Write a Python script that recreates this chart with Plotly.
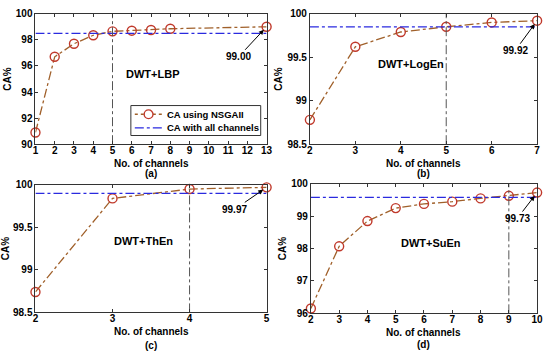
import plotly.graph_objects as go

# Data
a_x = [1, 2, 3, 4, 5, 6, 7, 8, 13]
a_y = [90.9, 96.7, 97.7, 98.35, 98.65, 98.7, 98.75, 98.85, 99.0]
a_all = 98.5
a_sel = 5

b_x = [2, 3, 4, 5, 6, 7]
b_y = [98.78, 99.62, 99.79, 99.85, 99.90, 99.92]
b_all = 99.85
b_sel = 5

c_x = [2, 3, 4, 5]
c_y = [98.74, 99.84, 99.95, 99.97]
c_all = 99.9
c_sel = 4

d_x = [2, 3, 4, 5, 6, 7, 8, 9, 10]
d_y = [96.15, 98.07, 98.85, 99.25, 99.38, 99.45, 99.55, 99.63, 99.73]
d_all = 99.58
d_sel = 9

legend_labels = ["CA using NSGAII", "CA with all channels"]

W, H = 550, 358
def px(x):
    return x / W
def py(y):
    return 1 - y / H

panels = [
    dict(x=a_x, y=a_y, all=a_all, sel=a_sel, xr=[1, 13], yr=[90, 100], yt=[90, 92, 94, 96, 98, 100],
         ytl=["90", "92", "94", "96", "98", "100"], label="(a)", name="DWT+LBP", best="99.00",
         top=8, bot=143, left=33, right=268, txt=(7.1, 95.4), arr_ax=-28, arr_ay=30,
         xt_y=(162, 172)),
    dict(x=b_x, y=b_y, all=b_all, sel=b_sel, xr=[2, 7], yr=[98.5, 100], yt=[98.5, 99, 99.5, 100],
         ytl=["98.5", "99", "99.5", "100"], label="(b)", name="DWT+LogEn", best="99.92",
         top=8, bot=143, left=312, right=543, txt=(4.22, 99.42), arr_ax=-22, arr_ay=30,
         xt_y=(162, 172)),
    dict(x=c_x, y=c_y, all=c_all, sel=c_sel, xr=[2, 5], yr=[98.5, 100], yt=[98.5, 99, 99.5, 100],
         ytl=["98.5", "99", "99.5", "100"], label="(c)", name="DWT+ThEn", best="99.97",
         top=185, bot=317, left=33, right=268, txt=(3.4, 99.34), arr_ax=-32, arr_ay=22,
         xt_y=(336, 350)),
    dict(x=d_x, y=d_y, all=d_all, sel=d_sel, xr=[2, 10], yr=[96, 100], yt=[96, 97, 98, 99, 100],
         ytl=["96", "97", "98", "99", "100"], label="(d)", name="DWT+SuEn", best="99.73",
         top=184, bot=318, left=313, right=543, txt=(6.25, 98.18), arr_ax=-20, arr_ay=26,
         xt_y=(337, 349)),
]

line_col = "#a0602a"
mark_col = "#c0392b"
all_col = "#2a2adf"
font = "Liberation Sans, Arial, sans-serif"

fig = go.Figure()
for i, p in enumerate(panels):
    n = "" if i == 0 else str(i + 1)
    xa, ya = "x" + n, "y" + n
    fig.add_trace(go.Scatter(
        x=p["x"], y=p["y"], mode="lines+markers", xaxis=xa, yaxis=ya,
        name=legend_labels[0], showlegend=False, cliponaxis=False,
        line=dict(color=line_col, width=1.3, dash="dashdot"),
        marker=dict(symbol="circle-open", size=9, color=mark_col, line=dict(width=1.4, color=mark_col)),
    ))
    fig.add_trace(go.Scatter(
        x=p["xr"], y=[p["all"], p["all"]], mode="lines", xaxis=xa, yaxis=ya,
        name=legend_labels[1], showlegend=False,
        line=dict(color=all_col, width=1.3, dash="dashdot"),
    ))
    fig.add_trace(go.Scatter(
        x=[p["sel"], p["sel"]], y=p["yr"], mode="lines", xaxis=xa, yaxis=ya, showlegend=False,
        line=dict(color="#555555", width=1, dash="dashdot"), hoverinfo="skip",
    ))
    xkey = "xaxis" + n
    ykey = "yaxis" + n
    fig.layout[xkey] = dict(
        domain=[px(p["left"]), px(p["right"])], anchor=ya, range=p["xr"], tickmode="array",
        tickvals=list(range(p["xr"][0], p["xr"][1] + 1)),
        showgrid=False, zeroline=False, showline=True, mirror="ticks", linecolor="#333",
        ticks="inside", ticklen=3, tickcolor="#333", ticklabelstandoff=-3,
        tickfont=dict(family=font, size=10, color="black", weight="bold"),
    )
    fig.layout[ykey] = dict(
        domain=[py(p["bot"]), py(p["top"])], anchor=xa, range=p["yr"], tickmode="array",
        tickvals=p["yt"], ticktext=p["ytl"],
        showgrid=False, zeroline=False, showline=True, mirror="ticks", linecolor="#333",
        ticks="inside", ticklen=3, tickcolor="#333",
        tickfont=dict(family=font, size=10, color="black", weight="bold"),
        title=dict(text="<b>CA%</b>", font=dict(family=font, size=10, color="black"), standoff=2),
    )
    for k, t in enumerate(["<b>No. of channels</b>", "<b>" + p["label"] + "</b>"]):
        fig.add_annotation(x=0.5, y=0, xref=xa + " domain", yref=ya + " domain", text=t,
                           xanchor="center", yanchor="middle", yshift=-(p["xt_y"][k] - p["bot"]),
                           showarrow=False, font=dict(family=font, size=10, color="black"))
    fig.add_annotation(x=p["txt"][0], y=p["txt"][1], xref=xa, yref=ya, text="<b>" + p["name"] + "</b>",
                       showarrow=False, font=dict(family=font, size=11, color="black"))
    fig.add_annotation(x=p["x"][-1], y=p["y"][-1], xref=xa, yref=ya, text="<b>" + p["best"] + "</b>",
                       showarrow=True, arrowhead=2, arrowsize=1, arrowwidth=1, arrowcolor="black",
                       ax=p["arr_ax"], ay=p["arr_ay"], standoff=4,
                       font=dict(family=font, size=10, color="black"))

# manual legend in panel (a)
shapes = [
    dict(type="rect", xref="paper", yref="paper", x0=px(130), x1=px(262), y0=py(134), y1=py(103),
         line=dict(color="#333", width=1), fillcolor="white", layer="above"),
    dict(type="line", xref="paper", yref="paper", x0=px(134), x1=px(162), y0=py(112), y1=py(112),
         line=dict(color=line_col, width=1.3, dash="dot"), layer="above"),
    dict(type="circle", xref="paper", yref="paper", x0=px(143.5), x1=px(152.5), y0=py(116.5), y1=py(107.5),
         line=dict(color=mark_col, width=1.4), fillcolor="white", layer="above"),
    dict(type="line", xref="paper", yref="paper", x0=px(134), x1=px(162), y0=py(126), y1=py(126),
         line=dict(color=all_col, width=1.3, dash="dashdot"), layer="above"),
]
fig.add_annotation(x=px(165), y=py(112), xref="paper", yref="paper", xanchor="left", yanchor="middle",
                   text="<b>" + legend_labels[0] + "</b>", showarrow=False,
                   font=dict(family=font, size=9.5, color="black"))
fig.add_annotation(x=px(165), y=py(126), xref="paper", yref="paper", xanchor="left", yanchor="middle",
                   text="<b>" + legend_labels[1] + "</b>", showarrow=False,
                   font=dict(family=font, size=9.5, color="black"))

fig.update_layout(
    width=W, height=H, margin=dict(l=0, r=0, t=0, b=0),
    plot_bgcolor="white", paper_bgcolor="white", showlegend=False, shapes=shapes,
)

fig.write_html("out.html", config={"displayModeBar": False},
               post_script="document.body.style.margin='0px';document.body.style.overflow='hidden';")
